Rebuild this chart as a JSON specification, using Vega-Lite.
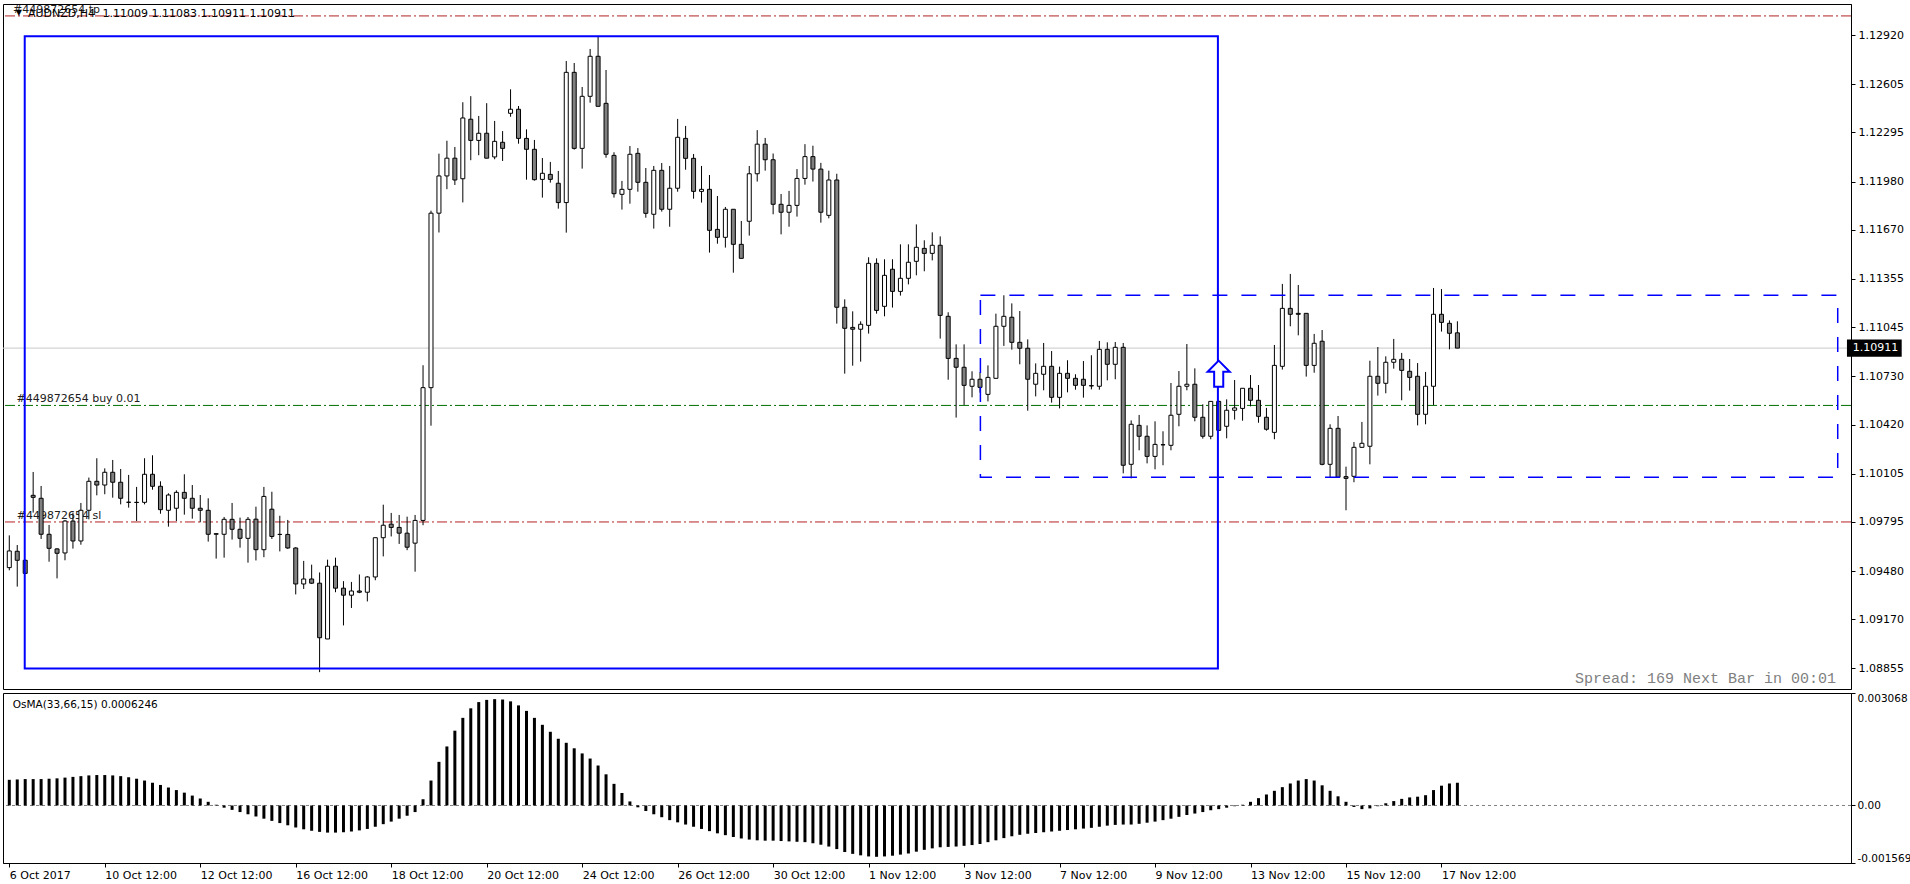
{
"$schema": "https://vega.github.io/schema/vega-lite/v6.json",
"padding": {"left": 2, "top": 3, "right": 0, "bottom": 0},
"background": "white",
"spacing": 2,
"config": {"view": {"stroke": "black", "strokeWidth": 1}, "axis": {"labelColor": "black", "tickColor": "black", "domainColor": "black", "grid": false, "title": null}},
"datasets": {
"bars": [
{"i":0,"o":1.09502,"h":1.09709,"l":1.09485,"c":1.09609,"v":0.00070},
{"i":1,"o":1.09607,"h":1.09647,"l":1.09380,"c":1.09549,"v":0.00071},
{"i":2,"o":1.09549,"h":1.09553,"l":1.09463,"c":1.09465,"v":0.00072},
{"i":3,"o":1.09966,"h":1.10116,"l":1.09855,"c":1.09953,"v":0.00072},
{"i":4,"o":1.09947,"h":1.10026,"l":1.09686,"c":1.09716,"v":0.00072},
{"i":5,"o":1.09716,"h":1.09776,"l":1.09540,"c":1.09626,"v":0.00073},
{"i":6,"o":1.09622,"h":1.09626,"l":1.09433,"c":1.09594,"v":0.00074},
{"i":7,"o":1.09596,"h":1.09808,"l":1.09549,"c":1.09801,"v":0.00076},
{"i":8,"o":1.09801,"h":1.09855,"l":1.09624,"c":1.09673,"v":0.00078},
{"i":9,"o":1.09673,"h":1.09917,"l":1.09649,"c":1.09870,"v":0.00080},
{"i":10,"o":1.09870,"h":1.10080,"l":1.09812,"c":1.10056,"v":0.00082},
{"i":11,"o":1.10056,"h":1.10204,"l":1.09966,"c":1.10032,"v":0.00083},
{"i":12,"o":1.10032,"h":1.10139,"l":1.09973,"c":1.10114,"v":0.00083},
{"i":13,"o":1.10114,"h":1.10193,"l":1.09951,"c":1.10050,"v":0.00082},
{"i":14,"o":1.10050,"h":1.10135,"l":1.09908,"c":1.09947,"v":0.00080},
{"i":15,"o":1.09922,"h":1.10097,"l":1.09887,"c":1.09921,"v":0.00077},
{"i":16,"o":1.09921,"h":1.10020,"l":1.09801,"c":1.09920,"v":0.00073},
{"i":17,"o":1.09921,"h":1.10204,"l":1.09908,"c":1.10101,"v":0.00068},
{"i":18,"o":1.10101,"h":1.10223,"l":1.10002,"c":1.10024,"v":0.00062},
{"i":19,"o":1.10024,"h":1.10056,"l":1.09848,"c":1.09874,"v":0.00056},
{"i":20,"o":1.09870,"h":1.09979,"l":1.09765,"c":1.09968,"v":0.00049},
{"i":21,"o":1.09883,"h":1.09998,"l":1.09801,"c":1.09985,"v":0.00042},
{"i":22,"o":1.09985,"h":1.10101,"l":1.09842,"c":1.09947,"v":0.00035},
{"i":23,"o":1.09947,"h":1.10032,"l":1.09816,"c":1.09883,"v":0.00027},
{"i":24,"o":1.09883,"h":1.09968,"l":1.09793,"c":1.09870,"v":0.00019},
{"i":25,"o":1.09870,"h":1.09947,"l":1.09669,"c":1.09716,"v":0.00010},
{"i":26,"o":1.09716,"h":1.09720,"l":1.09560,"c":1.09720,"v":0.00002},
{"i":27,"o":1.09716,"h":1.09827,"l":1.09566,"c":1.09812,"v":-0.00006},
{"i":28,"o":1.09812,"h":1.09917,"l":1.09682,"c":1.09748,"v":-0.00012},
{"i":29,"o":1.09748,"h":1.09823,"l":1.09630,"c":1.09690,"v":-0.00018},
{"i":30,"o":1.09690,"h":1.09827,"l":1.09534,"c":1.09812,"v":-0.00024},
{"i":31,"o":1.09813,"h":1.09893,"l":1.09548,"c":1.09617,"v":-0.00030},
{"i":32,"o":1.09617,"h":1.10020,"l":1.09569,"c":1.09959,"v":-0.00036},
{"i":33,"o":1.09877,"h":1.09989,"l":1.09686,"c":1.09702,"v":-0.00042},
{"i":34,"o":1.09715,"h":1.09835,"l":1.09606,"c":1.09715,"v":-0.00048},
{"i":35,"o":1.09715,"h":1.09808,"l":1.09622,"c":1.09628,"v":-0.00054},
{"i":36,"o":1.09628,"h":1.09633,"l":1.09330,"c":1.09397,"v":-0.00060},
{"i":37,"o":1.09397,"h":1.09545,"l":1.09365,"c":1.09429,"v":-0.00065},
{"i":38,"o":1.09429,"h":1.09521,"l":1.09397,"c":1.09402,"v":-0.00069},
{"i":39,"o":1.09402,"h":1.09471,"l":1.08831,"c":1.09052,"v":-0.00072},
{"i":40,"o":1.09044,"h":1.09553,"l":1.09044,"c":1.09511,"v":-0.00074},
{"i":41,"o":1.09511,"h":1.09566,"l":1.09344,"c":1.09370,"v":-0.00074},
{"i":42,"o":1.09370,"h":1.09415,"l":1.09131,"c":1.09325,"v":-0.00073},
{"i":43,"o":1.09325,"h":1.09410,"l":1.09243,"c":1.09352,"v":-0.00071},
{"i":44,"o":1.09352,"h":1.09458,"l":1.09338,"c":1.09344,"v":-0.00068},
{"i":45,"o":1.09344,"h":1.09447,"l":1.09285,"c":1.09442,"v":-0.00064},
{"i":46,"o":1.09442,"h":1.09694,"l":1.09421,"c":1.09694,"v":-0.00058},
{"i":47,"o":1.09694,"h":1.09906,"l":1.09574,"c":1.09774,"v":-0.00051},
{"i":48,"o":1.09781,"h":1.09853,"l":1.09702,"c":1.09760,"v":-0.00044},
{"i":49,"o":1.09760,"h":1.09840,"l":1.09654,"c":1.09723,"v":-0.00036},
{"i":50,"o":1.09723,"h":1.09829,"l":1.09614,"c":1.09633,"v":-0.00028},
{"i":51,"o":1.09659,"h":1.09840,"l":1.09476,"c":1.09805,"v":-0.00018},
{"i":52,"o":1.09805,"h":1.10801,"l":1.09774,"c":1.10657,"v":0.00017},
{"i":53,"o":1.10657,"h":1.11793,"l":1.10413,"c":1.11777,"v":0.00068},
{"i":54,"o":1.11777,"h":1.12159,"l":1.11653,"c":1.12016,"v":0.00119},
{"i":55,"o":1.12016,"h":1.12242,"l":1.11931,"c":1.12130,"v":0.00161},
{"i":56,"o":1.12130,"h":1.12202,"l":1.11958,"c":1.11990,"v":0.00204},
{"i":57,"o":1.11998,"h":1.12489,"l":1.11846,"c":1.12388,"v":0.00239},
{"i":58,"o":1.12380,"h":1.12528,"l":1.12117,"c":1.12244,"v":0.00265},
{"i":59,"o":1.12244,"h":1.12401,"l":1.12149,"c":1.12290,"v":0.00282},
{"i":60,"o":1.12290,"h":1.12483,"l":1.12130,"c":1.12130,"v":0.00288},
{"i":61,"o":1.12138,"h":1.12369,"l":1.12123,"c":1.12238,"v":0.00290},
{"i":62,"o":1.12232,"h":1.12304,"l":1.12112,"c":1.12193,"v":0.00289},
{"i":63,"o":1.12418,"h":1.12572,"l":1.12396,"c":1.12444,"v":0.00284},
{"i":64,"o":1.12444,"h":1.12465,"l":1.12223,"c":1.12257,"v":0.00273},
{"i":65,"o":1.12257,"h":1.12315,"l":1.11992,"c":1.12187,"v":0.00258},
{"i":66,"o":1.12187,"h":1.12247,"l":1.11986,"c":1.11992,"v":0.00239},
{"i":67,"o":1.11994,"h":1.12131,"l":1.11877,"c":1.12033,"v":0.00220},
{"i":68,"o":1.12026,"h":1.12106,"l":1.11973,"c":1.11994,"v":0.00201},
{"i":69,"o":1.11969,"h":1.12048,"l":1.11806,"c":1.11845,"v":0.00182},
{"i":70,"o":1.11845,"h":1.12754,"l":1.11652,"c":1.12681,"v":0.00171},
{"i":71,"o":1.12681,"h":1.12741,"l":1.12185,"c":1.12193,"v":0.00156},
{"i":72,"o":1.12193,"h":1.12587,"l":1.12063,"c":1.12527,"v":0.00142},
{"i":73,"o":1.12527,"h":1.12831,"l":1.12486,"c":1.12784,"v":0.00128},
{"i":74,"o":1.12784,"h":1.12908,"l":1.12463,"c":1.12463,"v":0.00109},
{"i":75,"o":1.12482,"h":1.12696,"l":1.12133,"c":1.12155,"v":0.00085},
{"i":76,"o":1.12148,"h":1.12168,"l":1.11877,"c":1.11902,"v":0.00059},
{"i":77,"o":1.11898,"h":1.11984,"l":1.11800,"c":1.11930,"v":0.00034},
{"i":78,"o":1.11930,"h":1.12208,"l":1.11838,"c":1.12155,"v":0.00011},
{"i":79,"o":1.12161,"h":1.12195,"l":1.11915,"c":1.11975,"v":-0.00005},
{"i":80,"o":1.11975,"h":1.12067,"l":1.11748,"c":1.11776,"v":-0.00015},
{"i":81,"o":1.11770,"h":1.12080,"l":1.11678,"c":1.12052,"v":-0.00024},
{"i":82,"o":1.12052,"h":1.12099,"l":1.11787,"c":1.11802,"v":-0.00032},
{"i":83,"o":1.11802,"h":1.12080,"l":1.11690,"c":1.11937,"v":-0.00040},
{"i":84,"o":1.11937,"h":1.12382,"l":1.11915,"c":1.12264,"v":-0.00046},
{"i":85,"o":1.12257,"h":1.12337,"l":1.12056,"c":1.12129,"v":-0.00052},
{"i":86,"o":1.12129,"h":1.12157,"l":1.11870,"c":1.11917,"v":-0.00058},
{"i":87,"o":1.11917,"h":1.12080,"l":1.11845,"c":1.11930,"v":-0.00064},
{"i":88,"o":1.11930,"h":1.12022,"l":1.11524,"c":1.11667,"v":-0.00070},
{"i":89,"o":1.11673,"h":1.11887,"l":1.11581,"c":1.11622,"v":-0.00076},
{"i":90,"o":1.11622,"h":1.11817,"l":1.11556,"c":1.11802,"v":-0.00081},
{"i":91,"o":1.11802,"h":1.11802,"l":1.11395,"c":1.11577,"v":-0.00086},
{"i":92,"o":1.11577,"h":1.11727,"l":1.11487,"c":1.11487,"v":-0.00090},
{"i":93,"o":1.11725,"h":1.12080,"l":1.11633,"c":1.12030,"v":-0.00093},
{"i":94,"o":1.12030,"h":1.12310,"l":1.11980,"c":1.12220,"v":-0.00095},
{"i":95,"o":1.12220,"h":1.12260,"l":1.12050,"c":1.12120,"v":-0.00096},
{"i":96,"o":1.12120,"h":1.12160,"l":1.11770,"c":1.11834,"v":-0.00096},
{"i":97,"o":1.11834,"h":1.11900,"l":1.11641,"c":1.11783,"v":-0.00097},
{"i":98,"o":1.11783,"h":1.11920,"l":1.11690,"c":1.11827,"v":-0.00098},
{"i":99,"o":1.11827,"h":1.12060,"l":1.11755,"c":1.12000,"v":-0.00099},
{"i":100,"o":1.12000,"h":1.12220,"l":1.11960,"c":1.12140,"v":-0.00100},
{"i":101,"o":1.12140,"h":1.12210,"l":1.11980,"c":1.12060,"v":-0.00103},
{"i":102,"o":1.12060,"h":1.12100,"l":1.11716,"c":1.11783,"v":-0.00107},
{"i":103,"o":1.11763,"h":1.12050,"l":1.11744,"c":1.11990,"v":-0.00112},
{"i":104,"o":1.11990,"h":1.12030,"l":1.11068,"c":1.11173,"v":-0.00119},
{"i":105,"o":1.11173,"h":1.11224,"l":1.10747,"c":1.11038,"v":-0.00127},
{"i":106,"o":1.11044,"h":1.11147,"l":1.10798,"c":1.11032,"v":-0.00132},
{"i":107,"o":1.11032,"h":1.11083,"l":1.10824,"c":1.11064,"v":-0.00136},
{"i":108,"o":1.11057,"h":1.11494,"l":1.11004,"c":1.11455,"v":-0.00139},
{"i":109,"o":1.11455,"h":1.11487,"l":1.11132,"c":1.11153,"v":-0.00140},
{"i":110,"o":1.11179,"h":1.11481,"l":1.11115,"c":1.11378,"v":-0.00139},
{"i":111,"o":1.11417,"h":1.11481,"l":1.11171,"c":1.11275,"v":-0.00137},
{"i":112,"o":1.11275,"h":1.11577,"l":1.11248,"c":1.11359,"v":-0.00134},
{"i":113,"o":1.11359,"h":1.11577,"l":1.11320,"c":1.11462,"v":-0.00131},
{"i":114,"o":1.11468,"h":1.11705,"l":1.11378,"c":1.11558,"v":-0.00126},
{"i":115,"o":1.11551,"h":1.11603,"l":1.11404,"c":1.11519,"v":-0.00121},
{"i":116,"o":1.11519,"h":1.11654,"l":1.11474,"c":1.11571,"v":-0.00117},
{"i":117,"o":1.11571,"h":1.11628,"l":1.10972,"c":1.11121,"v":-0.00114},
{"i":118,"o":1.11115,"h":1.11141,"l":1.10708,"c":1.10845,"v":-0.00113},
{"i":119,"o":1.10845,"h":1.10935,"l":1.10465,"c":1.10788,"v":-0.00112},
{"i":120,"o":1.10788,"h":1.10935,"l":1.10546,"c":1.10672,"v":-0.00110},
{"i":121,"o":1.10666,"h":1.10762,"l":1.10595,"c":1.10711,"v":-0.00108},
{"i":122,"o":1.10711,"h":1.10756,"l":1.10625,"c":1.10659,"v":-0.00105},
{"i":123,"o":1.10614,"h":1.10800,"l":1.10569,"c":1.10723,"v":-0.00100},
{"i":124,"o":1.10717,"h":1.11132,"l":1.10717,"c":1.11051,"v":-0.00095},
{"i":125,"o":1.11051,"h":1.11250,"l":1.10925,"c":1.11115,"v":-0.00089},
{"i":126,"o":1.11109,"h":1.11198,"l":1.10901,"c":1.10948,"v":-0.00084},
{"i":127,"o":1.10948,"h":1.11149,"l":1.10807,"c":1.10910,"v":-0.00080},
{"i":128,"o":1.10910,"h":1.10967,"l":1.10509,"c":1.10711,"v":-0.00077},
{"i":129,"o":1.10679,"h":1.10813,"l":1.10601,"c":1.10749,"v":-0.00075},
{"i":130,"o":1.10743,"h":1.10944,"l":1.10640,"c":1.10794,"v":-0.00073},
{"i":131,"o":1.10794,"h":1.10892,"l":1.10561,"c":1.10595,"v":-0.00071},
{"i":132,"o":1.10595,"h":1.10792,"l":1.10524,"c":1.10749,"v":-0.00069},
{"i":133,"o":1.10749,"h":1.10833,"l":1.10627,"c":1.10717,"v":-0.00067},
{"i":134,"o":1.10717,"h":1.10743,"l":1.10644,"c":1.10672,"v":-0.00065},
{"i":135,"o":1.10711,"h":1.10828,"l":1.10593,"c":1.10672,"v":-0.00063},
{"i":136,"o":1.10670,"h":1.10865,"l":1.10646,"c":1.10668,"v":-0.00061},
{"i":137,"o":1.10666,"h":1.10957,"l":1.10644,"c":1.10903,"v":-0.00058},
{"i":138,"o":1.10903,"h":1.10948,"l":1.10704,"c":1.10807,"v":-0.00055},
{"i":139,"o":1.10807,"h":1.10950,"l":1.10711,"c":1.10916,"v":-0.00053},
{"i":140,"o":1.10916,"h":1.10944,"l":1.10107,"c":1.10159,"v":-0.00052},
{"i":141,"o":1.10165,"h":1.10447,"l":1.10075,"c":1.10422,"v":-0.00052},
{"i":142,"o":1.10415,"h":1.10482,"l":1.10255,"c":1.10345,"v":-0.00050},
{"i":143,"o":1.10345,"h":1.10415,"l":1.10171,"c":1.10216,"v":-0.00047},
{"i":144,"o":1.10216,"h":1.10441,"l":1.10133,"c":1.10293,"v":-0.00044},
{"i":145,"o":1.10291,"h":1.10377,"l":1.10159,"c":1.10290,"v":-0.00040},
{"i":146,"o":1.10287,"h":1.10687,"l":1.10255,"c":1.10480,"v":-0.00036},
{"i":147,"o":1.10486,"h":1.10764,"l":1.10409,"c":1.10666,"v":-0.00031},
{"i":148,"o":1.10666,"h":1.10937,"l":1.10640,"c":1.10679,"v":-0.00026},
{"i":149,"o":1.10679,"h":1.10781,"l":1.10441,"c":1.10467,"v":-0.00022},
{"i":150,"o":1.10467,"h":1.10550,"l":1.10330,"c":1.10345,"v":-0.00018},
{"i":151,"o":1.10345,"h":1.10569,"l":1.10326,"c":1.10569,"v":-0.00013},
{"i":152,"o":1.10569,"h":1.10574,"l":1.10379,"c":1.10383,"v":-0.00010},
{"i":153,"o":1.10409,"h":1.10582,"l":1.10332,"c":1.10512,"v":-0.00006},
{"i":154,"o":1.10512,"h":1.10706,"l":1.10452,"c":1.10527,"v":-0.00002},
{"i":155,"o":1.10524,"h":1.10653,"l":1.10445,"c":1.10653,"v":0.00002},
{"i":156,"o":1.10653,"h":1.10738,"l":1.10537,"c":1.10576,"v":0.00010},
{"i":157,"o":1.10576,"h":1.10674,"l":1.10432,"c":1.10473,"v":0.00020},
{"i":158,"o":1.10467,"h":1.10527,"l":1.10381,"c":1.10390,"v":0.00030},
{"i":159,"o":1.10370,"h":1.10931,"l":1.10326,"c":1.10800,"v":0.00040},
{"i":160,"o":1.10794,"h":1.11323,"l":1.10773,"c":1.11166,"v":0.00050},
{"i":161,"o":1.11166,"h":1.11387,"l":1.11051,"c":1.11128,"v":0.00060},
{"i":162,"o":1.11134,"h":1.11316,"l":1.10993,"c":1.11128,"v":0.00068},
{"i":163,"o":1.11134,"h":1.11134,"l":1.10728,"c":1.10800,"v":0.00072},
{"i":164,"o":1.10800,"h":1.11002,"l":1.10753,"c":1.10942,"v":0.00068},
{"i":165,"o":1.10955,"h":1.11027,"l":1.10159,"c":1.10165,"v":0.00055},
{"i":166,"o":1.10165,"h":1.10422,"l":1.10082,"c":1.10396,"v":0.00040},
{"i":167,"o":1.10396,"h":1.10475,"l":1.10082,"c":1.10082,"v":0.00025},
{"i":168,"o":1.10086,"h":1.10150,"l":1.09870,"c":1.10075,"v":0.00010},
{"i":169,"o":1.10088,"h":1.10308,"l":1.10050,"c":1.10274,"v":-0.00004},
{"i":170,"o":1.10274,"h":1.10437,"l":1.10272,"c":1.10300,"v":-0.00010},
{"i":171,"o":1.10281,"h":1.10830,"l":1.10165,"c":1.10730,"v":-0.00008},
{"i":172,"o":1.10730,"h":1.10918,"l":1.10606,"c":1.10685,"v":-0.00002},
{"i":173,"o":1.10685,"h":1.10858,"l":1.10621,"c":1.10820,"v":0.00006},
{"i":174,"o":1.10820,"h":1.10970,"l":1.10779,"c":1.10839,"v":0.00012},
{"i":175,"o":1.10839,"h":1.10880,"l":1.10576,"c":1.10768,"v":0.00018},
{"i":176,"o":1.10762,"h":1.10841,"l":1.10638,"c":1.10723,"v":0.00022},
{"i":177,"o":1.10730,"h":1.10815,"l":1.10415,"c":1.10486,"v":0.00024},
{"i":178,"o":1.10486,"h":1.10758,"l":1.10422,"c":1.10666,"v":0.00028},
{"i":179,"o":1.10666,"h":1.11297,"l":1.10546,"c":1.11128,"v":0.00042},
{"i":180,"o":1.11128,"h":1.11290,"l":1.11017,"c":1.11076,"v":0.00054},
{"i":181,"o":1.11070,"h":1.11089,"l":1.10903,"c":1.11006,"v":0.00060},
{"i":182,"o":1.11009,"h":1.11083,"l":1.10911,"c":1.10911,"v":0.00062}
],
"levels": [
{"name":"tp","price":1.13043,"label":"#449872654 tp","li":0.46},
{"name":"buy","price":1.10543,"label":"#449872654 buy 0.01","li":0.9},
{"name":"sl","price":1.09795,"label":"#449872654 sl","li":0.95}
],
"boxes": [
{"kind":"solid","x1":1.94,"x2":151.9,"y1":1.08855,"y2":1.12912},
{"kind":"dashed","x1":122.05,"x2":229.8,"y1":1.10082,"y2":1.11250}
]
},
"vconcat": [
{
"width": 1848,
"height": 685,
"layer": [
{
"data": {"values": [{"price": 1.10911}]},
"mark": {"type": "rule", "color": "#C8C8C8", "strokeWidth": 1},
"encoding": {"y": {"field": "price", "type": "quantitative", "scale": {"domain": [1.087229, 1.131196], "nice": false, "zero": false}}}
},
{
"data": {"name": "levels"},
"mark": {"type": "rule", "strokeWidth": 1, "strokeDash": [10, 3, 2, 3]},
"encoding": {
"y": {"field": "price", "type": "quantitative", "scale": {"domain": [1.087229, 1.131196], "nice": false, "zero": false}},
"color": {"field": "name", "type": "nominal", "scale": {"domain": ["tp", "buy", "sl"], "range": ["#B22222", "#007000", "#B22222"]}, "legend": null}
}
},
{
"data": {"name": "levels"},
"mark": {"type": "text", "align": "left", "baseline": "bottom", "dy": -1, "font": "DejaVu Sans", "fontSize": 11, "color": "#202020"},
"encoding": {
"x": {"field": "li", "type": "quantitative", "scale": {"domain": [-0.1625, 230.84], "nice": false, "zero": false}, "axis": null},
"y": {"field": "price", "type": "quantitative", "scale": {"domain": [1.087229, 1.131196], "nice": false, "zero": false}},
"text": {"field": "label"}
}
},
{
"data": {"name": "bars"},
"mark": {"type": "rule", "color": "black", "strokeWidth": 1},
"encoding": {
"x": {"field": "i", "type": "quantitative", "scale": {"domain": [-0.1625, 230.84], "nice": false, "zero": false}, "axis": null},
"y": {"field": "l", "type": "quantitative", "scale": {"domain": [1.087229, 1.131196], "nice": false, "zero": false},
"axis": {"orient": "right", "title": null, "values": [1.12920, 1.12605, 1.12295, 1.11980, 1.11670, 1.11355, 1.11045, 1.10730, 1.10420, 1.10105, 1.09795, 1.09480, 1.09170, 1.08855], "format": ".5f", "tickSize": 4, "labelPadding": 3, "labelFont": "DejaVu Sans", "labelFontSize": 11, "labelFlush": false, "labelOverlap": false, "labelBound": false, "grid": false, "domain": true, "ticks": true, "labels": true}},
"y2": {"field": "h"}
}
},
{
"data": {"name": "bars"},
"mark": {"type": "bar", "size": 4, "stroke": "black", "strokeWidth": 1, "clip": true},
"encoding": {
"x": {"field": "i", "type": "quantitative", "scale": {"domain": [-0.1625, 230.84], "nice": false, "zero": false}, "axis": null},
"y": {"field": "o", "type": "quantitative", "scale": {"domain": [1.087229, 1.131196], "nice": false, "zero": false}},
"y2": {"field": "c"},
"fill": {"condition": {"test": "datum.c >= datum.o", "value": "white"}, "value": "#808080"}
}
},
{
"data": {"name": "boxes"},
"transform": [{"filter": "datum.kind == 'solid'"}],
"mark": {"type": "rect", "fillOpacity": 0, "stroke": "#0000FF", "strokeWidth": 2},
"encoding": {
"x": {"field": "x1", "type": "quantitative", "scale": {"domain": [-0.1625, 230.84], "nice": false, "zero": false}, "axis": null},
"x2": {"field": "x2"},
"y": {"field": "y1", "type": "quantitative", "scale": {"domain": [1.087229, 1.131196], "nice": false, "zero": false}},
"y2": {"field": "y2"}
}
},
{
"data": {"name": "boxes"},
"transform": [{"filter": "datum.kind == 'dashed'"}],
"mark": {"type": "rect", "fillOpacity": 0, "stroke": "#0000FF", "strokeWidth": 1.5, "strokeDash": [15, 14]},
"encoding": {
"x": {"field": "x1", "type": "quantitative", "scale": {"domain": [-0.1625, 230.84], "nice": false, "zero": false}, "axis": null},
"x2": {"field": "x2"},
"y": {"field": "y1", "type": "quantitative", "scale": {"domain": [1.087229, 1.131196], "nice": false, "zero": false}},
"y2": {"field": "y2"}
}
},
{
"data": {"values": [{"i": 152.0, "p": 1.10747}]},
"mark": {"type": "point", "shape": "M0,-1L0.85,-0.15L0.35,-0.15L0.35,1L-0.35,1L-0.35,-0.15L-0.85,-0.15Z", "size": 676, "filled": true, "fill": "white", "stroke": "#0000FF", "strokeWidth": 2, "opacity": 1},
"encoding": {
"x": {"field": "i", "type": "quantitative", "scale": {"domain": [-0.1625, 230.84], "nice": false, "zero": false}, "axis": null},
"y": {"field": "p", "type": "quantitative", "scale": {"domain": [1.087229, 1.131196], "nice": false, "zero": false}}
}
},
{
"data": {"values": [{"t": "AUDNZD,H4", "i": 2.34, "p": 1.130574}, {"t": "1.11009 1.11083 1.10911 1.10911", "i": 11.71, "p": 1.130574}]},
"mark": {"type": "text", "align": "left", "baseline": "middle", "font": "DejaVu Sans", "fontSize": 11, "color": "black"},
"encoding": {
"x": {"field": "i", "type": "quantitative", "scale": {"domain": [-0.1625, 230.84], "nice": false, "zero": false}, "axis": null},
"y": {"field": "p", "type": "quantitative", "scale": {"domain": [1.087229, 1.131196], "nice": false, "zero": false}},
"text": {"field": "t"}
}
},
{
"data": {"values": [{"t": "▼", "i": 1.21, "p": 1.13062}]},
"mark": {"type": "text", "align": "center", "baseline": "middle", "font": "DejaVu Sans", "fontSize": 8, "color": "black"},
"encoding": {
"x": {"field": "i", "type": "quantitative", "scale": {"domain": [-0.1625, 230.84], "nice": false, "zero": false}, "axis": null},
"y": {"field": "p", "type": "quantitative", "scale": {"domain": [1.087229, 1.131196], "nice": false, "zero": false}},
"text": {"field": "t"}
}
},
{
"data": {"values": [{"t": "Spread: 169 Next Bar in 00:01", "i": 229.59, "p": 1.087614}]},
"mark": {"type": "text", "align": "right", "baseline": "alphabetic", "font": "Liberation Mono", "fontSize": 15, "color": "#808080"},
"encoding": {
"x": {"field": "i", "type": "quantitative", "scale": {"domain": [-0.1625, 230.84], "nice": false, "zero": false}, "axis": null},
"y": {"field": "p", "type": "quantitative", "scale": {"domain": [1.087229, 1.131196], "nice": false, "zero": false}},
"text": {"field": "t"}
}
},
{
"data": {"values": [{"a": 230.96, "b": 237.84, "lo": 1.10856, "hi": 1.10966}]},
"mark": {"type": "rect", "color": "black"},
"encoding": {
"x": {"field": "a", "type": "quantitative", "scale": {"domain": [-0.1625, 230.84], "nice": false, "zero": false}, "axis": null},
"x2": {"field": "b"},
"y": {"field": "lo", "type": "quantitative", "scale": {"domain": [1.087229, 1.131196], "nice": false, "zero": false}},
"y2": {"field": "hi"}
}
},
{
"data": {"values": [{"t": "1.10911", "i": 231.7, "p": 1.10911}]},
"mark": {"type": "text", "align": "left", "baseline": "middle", "font": "DejaVu Sans", "fontSize": 11, "color": "white"},
"encoding": {
"x": {"field": "i", "type": "quantitative", "scale": {"domain": [-0.1625, 230.84], "nice": false, "zero": false}, "axis": null},
"y": {"field": "p", "type": "quantitative", "scale": {"domain": [1.087229, 1.131196], "nice": false, "zero": false}},
"text": {"field": "t"}
}
}
]
},
{
"width": 1848,
"height": 170,
"layer": [
{
"data": {"values": [{"z": 0}]},
"mark": {"type": "rule", "color": "#808080", "strokeWidth": 1, "strokeDash": [3, 3]},
"encoding": {"y": {"field": "z", "type": "quantitative", "scale": {"domain": [-0.001569, 0.003068], "nice": false, "zero": false}}}
},
{
"data": {"name": "bars"},
"mark": {"type": "bar", "size": 3, "color": "black"},
"encoding": {
"x": {"field": "i", "type": "quantitative", "scale": {"domain": [-0.1625, 230.84], "nice": false, "zero": false},
"axis": {"orient": "bottom", "title": null, "values": [0, 12, 24, 36, 48, 60, 72, 84, 96, 108, 120, 132, 144, 156, 168, 180],
"labelExpr": "['6 Oct 2017','10 Oct 12:00','12 Oct 12:00','16 Oct 12:00','18 Oct 12:00','20 Oct 12:00','24 Oct 12:00','26 Oct 12:00','30 Oct 12:00','1 Nov 12:00','3 Nov 12:00','7 Nov 12:00','9 Nov 12:00','13 Nov 12:00','15 Nov 12:00','17 Nov 12:00'][round(datum.value/12)]",
"labelAlign": "left", "labelOffset": 0, "labelFont": "DejaVu Sans", "labelFontSize": 11, "tickSize": 4, "labelPadding": 2, "labelFlush": false, "labelOverlap": false, "labelBound": false, "grid": false, "domain": true, "ticks": true, "labels": true}},
"y": {"field": "v", "type": "quantitative", "scale": {"domain": [-0.001569, 0.003068], "nice": false, "zero": false},
"axis": {"orient": "right", "title": null, "values": [0.003068, 0, -0.001569], "labelExpr": "datum.value > 0.001 ? '0.003068' : (datum.value < -0.001 ? '-0.001569' : '0.00')", "labelFlush": true, "tickSize": 4, "labelPadding": 2, "labelFont": "DejaVu Sans", "labelFontSize": 10.5, "labelOverlap": false, "grid": false, "domain": true, "ticks": true, "labels": true}},
"y2": {"datum": 0}
}
},
{
"data": {"values": [{"t": "OsMA(33,66,15) 0.0006246", "i": 0.43, "p": 0.002741}]},
"mark": {"type": "text", "align": "left", "baseline": "middle", "font": "DejaVu Sans", "fontSize": 10.5, "color": "black"},
"encoding": {
"x": {"field": "i", "type": "quantitative", "scale": {"domain": [-0.1625, 230.84], "nice": false, "zero": false}},
"y": {"field": "p", "type": "quantitative", "scale": {"domain": [-0.001569, 0.003068], "nice": false, "zero": false}},
"text": {"field": "t"}
}
}
]
}
]
}
